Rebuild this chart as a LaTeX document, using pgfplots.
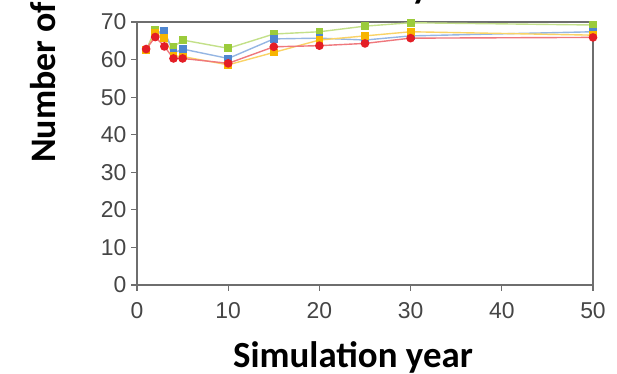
\documentclass[border=0pt]{standalone}
\usepackage{pgfplots}
\pgfplotsset{compat=1.18}
\usepackage{fontspec}
\setmainfont{Liberation Sans}
\newfontfamily\calibri{Carlito}
\definecolor{gcol}{HTML}{9BCB3B}
\definecolor{bcol}{HTML}{4F86D0}
\definecolor{ycol}{HTML}{F7B500}
\definecolor{rcol}{HTML}{E41E26}
\definecolor{axcol}{HTML}{6E6E6E}
\definecolor{tickcol}{HTML}{454545}
\begin{document}
\begin{tikzpicture}
\useasboundingbox (0bp,0bp) rectangle (617bp,374bp);
\clip (0bp,0bp) rectangle (617bp,374bp);
\begin{axis}[
  at={(137bp,89bp)}, anchor=south west,
  scale only axis, width=456bp, height=263bp,
  xmin=0, xmax=50, ymin=0, ymax=70,
  xtick={0,10,...,50}, ytick={0,10,...,70},
  xtick pos=bottom, ytick pos=left,
  tick align=outside, major tick length=6bp,
  axis line style={axcol, line width=1.6bp},
  every tick/.style={axcol, line width=1.2bp},
  /pgf/number format/assume math mode=true,
  tick label style={font=\fontsize{23}{27}\selectfont, text=tickcol},
  xticklabel style={yshift=-8bp},
  yticklabel style={xshift=-1bp},
  clip=false,
]
\addplot[draw=gcol!60, line width=1.4bp, mark=square*, mark size=3.2bp, mark options={fill=gcol, draw=gcol}] coordinates {
(1,62.5) (2,68) (3,66) (4,63.3) (5,65.2) (10,63) (15,66.8) (20,67.4) (25,68.9) (30,69.8) (50,69.2)};
\addplot[draw=bcol!60, line width=1.4bp, mark=square*, mark size=3.2bp, mark options={fill=bcol, draw=bcol}] coordinates {
(1,62.5) (2,67) (3,67.7) (4,61.7) (5,62.8) (10,60.3) (15,65.5) (20,65.7) (25,65.2) (30,66.3) (50,67.4)};
\addplot[draw=ycol!60, line width=1.4bp, mark=square*, mark size=3.2bp, mark options={fill=ycol, draw=ycol}] coordinates {
(1,62.5) (2,67) (3,65.7) (4,61) (5,60.8) (10,58.6) (15,61.9) (20,65.2) (25,66.3) (30,67.4) (50,66.5)};
\addplot[draw=rcol!60, line width=1.4bp, mark=*, mark size=3.6bp, mark options={fill=rcol, draw=rcol}] coordinates {
(1,62.8) (2,66) (3,63.5) (4,60.3) (5,60.3) (10,59) (15,63.4) (20,63.7) (25,64.3) (30,65.7) (50,65.9)};
\end{axis}
\node[anchor=base, inner sep=0pt, font=\calibri\bfseries\fontsize{37}{40}\selectfont] at (353bp,7bp) {Simulation year};
\node[anchor=base west, rotate=90, inner sep=0pt, font=\calibri\bfseries\fontsize{36}{40}\selectfont] at (55bp,211bp) {Number of species};
\node[anchor=base, inner sep=0pt, font=\calibri\bfseries\fontsize{36}{40}\selectfont] at (420bp,375bp) {y};
\end{tikzpicture}
\end{document}
